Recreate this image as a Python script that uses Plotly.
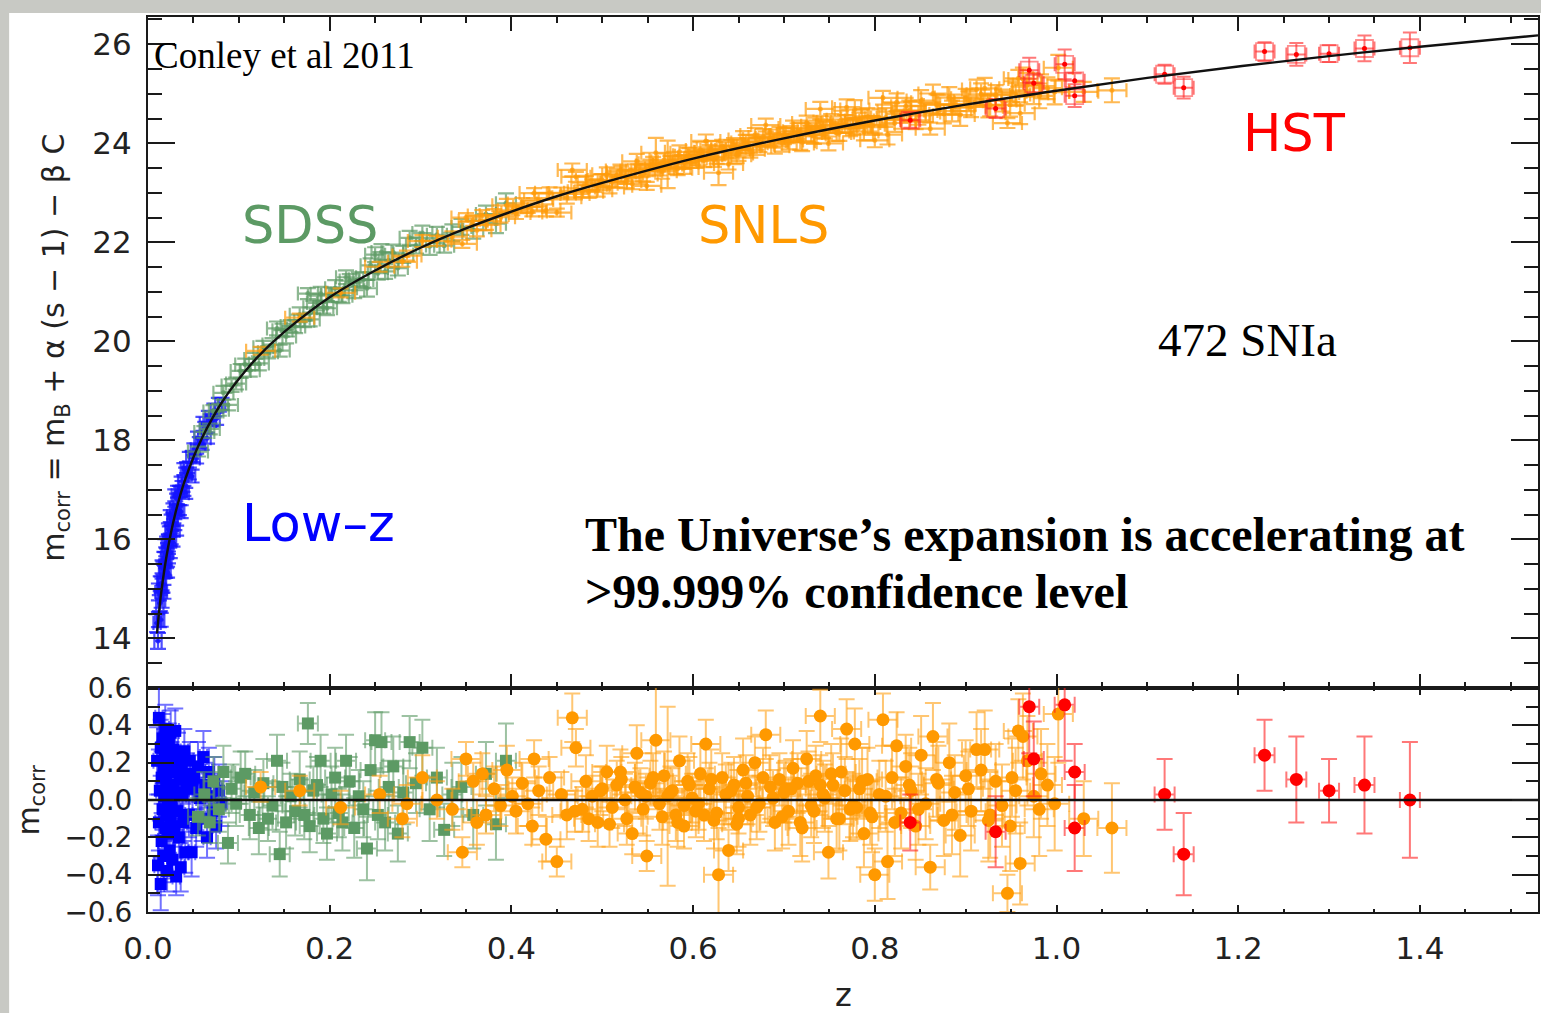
import numpy as np
import plotly.graph_objects as go
from plotly.subplots import make_subplots

# ---------------- best-fit model curve (z, m_corr) ----------------
model_z = [0.010, 0.012, 0.015, 0.020, 0.025, 0.030, 0.035, 0.040, 0.050, 0.060,
           0.070, 0.080, 0.090, 0.100, 0.120, 0.150, 0.200, 0.250, 0.300, 0.350,
           0.400, 0.450, 0.500, 0.600, 0.700, 0.800, 0.900, 1.000, 1.100, 1.200,
           1.300, 1.400, 1.530]
model_m = [14.10, 14.50, 14.99, 15.62, 16.11, 16.52, 16.86, 17.16, 17.66, 18.07,
           18.42, 18.73, 19.00, 19.24, 19.67, 20.19, 20.89, 21.43, 21.89, 22.28,
           22.62, 22.93, 23.20, 23.69, 24.10, 24.46, 24.78, 25.06, 25.32, 25.55,
           25.76, 25.95, 26.18]

# ---------------- Low-z sample ----------------
lowz_z = [0.010, 0.011, 0.012, 0.012, 0.013, 0.014, 0.014, 0.015, 0.015, 0.016,
          0.016, 0.017, 0.017, 0.018, 0.018, 0.019, 0.019, 0.020, 0.020, 0.021,
          0.021, 0.022, 0.022, 0.023, 0.023, 0.024, 0.024, 0.025, 0.025, 0.026,
          0.026, 0.027, 0.028, 0.028, 0.029, 0.030, 0.030, 0.031, 0.032, 0.032,
          0.033, 0.034, 0.035, 0.036, 0.037, 0.038, 0.039, 0.040, 0.041, 0.042,
          0.043, 0.045, 0.046, 0.048, 0.049, 0.051, 0.053, 0.055, 0.057, 0.059,
          0.061, 0.063, 0.065, 0.067, 0.069, 0.071, 0.073, 0.075, 0.078, 0.081]
lowz_res = [0.21, -0.35, 0.44, -0.12, 0.05, -0.45, 0.28, 0.12, -0.22, 0.33,
            -0.05, 0.18, -0.30, 0.02, 0.25, -0.15, 0.38, -0.08, 0.10, -0.38,
            0.22, 0.00, -0.18, 0.30, 0.07, -0.27, 0.15, -0.10, 0.36, -0.02,
            0.20, -0.32, 0.08, 0.27, -0.14, 0.04, 0.37, -0.41, 0.16, -0.06,
            0.24, -0.20, 0.11, -0.36, 0.19, 0.03, -0.12, 0.26, -0.28, 0.09,
            0.14, -0.08, 0.21, -0.28, 0.06, 0.12, -0.15, 0.18, 0.01, -0.10,
            0.23, 0.08, -0.20, 0.15, 0.02, -0.06, 0.10, -0.14, 0.05, -0.02]
lowz_err = [0.18, 0.16, 0.17, 0.15, 0.16, 0.14, 0.15, 0.14, 0.15, 0.13,
            0.14, 0.13, 0.14, 0.12, 0.13, 0.12, 0.13, 0.12, 0.12, 0.11,
            0.12, 0.11, 0.12, 0.11, 0.11, 0.12, 0.10, 0.11, 0.12, 0.10,
            0.11, 0.10, 0.11, 0.10, 0.11, 0.10, 0.12, 0.10, 0.11, 0.10,
            0.12, 0.10, 0.11, 0.13, 0.10, 0.11, 0.10, 0.12, 0.11, 0.10,
            0.11, 0.12, 0.10, 0.13, 0.11, 0.12, 0.10, 0.13, 0.11, 0.12,
            0.14, 0.12, 0.11, 0.13, 0.12, 0.11, 0.13, 0.12, 0.14, 0.12]

# ---------------- SDSS sample ----------------
sdss_z = [0.055, 0.062, 0.068, 0.072, 0.078, 0.083, 0.088, 0.092, 0.097, 0.102,
          0.107, 0.112, 0.117, 0.122, 0.127, 0.132, 0.137, 0.142, 0.145, 0.148,
          0.152, 0.157, 0.162, 0.167, 0.172, 0.176, 0.178, 0.182, 0.186, 0.190,
          0.193, 0.197, 0.202, 0.206, 0.210, 0.214, 0.218, 0.222, 0.227, 0.232,
          0.237, 0.241, 0.245, 0.250, 0.253, 0.257, 0.261, 0.265, 0.270, 0.275,
          0.281, 0.288, 0.295, 0.302, 0.310, 0.318, 0.326, 0.335, 0.345, 0.358,
          0.372, 0.383, 0.394]
sdss_res = [-0.09, 0.03, -0.12, 0.10, -0.05, 0.15, -0.23, 0.06, -0.02, 0.12,
            0.14, -0.08, 0.04, -0.15, 0.09, -0.10, -0.03, 0.21, -0.29, 0.07,
            -0.12, 0.02, -0.06, 0.11, -0.08, 0.41, -0.14, 0.05, 0.08, 0.21,
            -0.10, -0.18, 0.03, 0.12, -0.07, -0.12, 0.21, 0.10, -0.15, 0.02,
            -0.05, -0.26, 0.16, 0.32, -0.08, 0.31, -0.12, 0.07, 0.18, -0.18,
            0.04, 0.31, 0.09, 0.28, -0.05, 0.12, -0.16, 0.03, 0.07, -0.08,
            0.14, -0.13, 0.21]
sdss_err = [0.10, 0.12, 0.11, 0.13, 0.12, 0.14, 0.11, 0.13, 0.12, 0.14,
            0.12, 0.13, 0.12, 0.14, 0.13, 0.12, 0.13, 0.14, 0.12, 0.13,
            0.14, 0.12, 0.13, 0.15, 0.13, 0.11, 0.14, 0.13, 0.15, 0.14,
            0.13, 0.14, 0.15, 0.16, 0.13, 0.15, 0.14, 0.13, 0.16, 0.14,
            0.15, 0.17, 0.14, 0.15, 0.13, 0.16, 0.15, 0.14, 0.16, 0.15,
            0.17, 0.14, 0.16, 0.15, 0.17, 0.16, 0.14, 0.17, 0.16, 0.18,
            0.17, 0.19, 0.20]

# ---------------- SNLS sample ----------------
snls_z = [0.124, 0.167, 0.212, 0.255, 0.280, 0.285, 0.302, 0.318, 0.335, 0.346,
          0.350, 0.358, 0.362, 0.368, 0.372, 0.381, 0.388, 0.395, 0.401, 0.405,
          0.412, 0.418, 0.423, 0.425, 0.430, 0.438, 0.442, 0.450, 0.455, 0.461,
          0.467, 0.471, 0.478, 0.482, 0.489, 0.495, 0.500, 0.505, 0.511, 0.516,
          0.521, 0.527, 0.533, 0.538, 0.542, 0.549, 0.553, 0.559, 0.563, 0.568,
          0.572, 0.577, 0.581, 0.585, 0.590, 0.594, 0.599, 0.603, 0.608, 0.614,
          0.618, 0.623, 0.628, 0.632, 0.636, 0.639, 0.645, 0.650, 0.655, 0.660,
          0.663, 0.668, 0.673, 0.680, 0.685, 0.690, 0.695, 0.700, 0.705, 0.710,
          0.715, 0.720, 0.725, 0.730, 0.735, 0.740, 0.745, 0.749, 0.754, 0.758,
          0.763, 0.769, 0.773, 0.778, 0.783, 0.788, 0.792, 0.797, 0.800, 0.805,
          0.809, 0.814, 0.819, 0.824, 0.829, 0.834, 0.840, 0.845, 0.851, 0.856,
          0.861, 0.864, 0.870, 0.876, 0.882, 0.888, 0.894, 0.900, 0.906, 0.912,
          0.917, 0.921, 0.927, 0.933, 0.940, 0.946, 0.949, 0.951, 0.955, 0.958,
          0.960, 0.963, 0.968, 0.975, 0.981, 0.983, 0.990, 0.998, 1.002, 1.030,
          1.061, 0.548, 0.612, 0.702, 0.780, 0.520, 0.650, 0.740, 0.590, 0.470,
          0.485, 0.498, 0.508, 0.525, 0.536, 0.545, 0.556, 0.566, 0.575, 0.583,
          0.596, 0.606, 0.620, 0.626, 0.642, 0.648, 0.658, 0.670, 0.677, 0.688,
          0.698, 0.708, 0.718, 0.727, 0.733, 0.743, 0.752, 0.761, 0.767, 0.776,
          0.786, 0.795, 0.812, 0.822, 0.838, 0.848, 0.868, 0.885, 0.903, 0.925]
snls_res = [0.07, 0.05, -0.04, 0.03, -0.10, -0.02, 0.12, 0.00, -0.05, -0.28,
            0.22, 0.10, -0.12, 0.14, -0.08, 0.06, -0.03, 0.16, 0.02, -0.06,
            0.09, -0.02, -0.14, 0.22, 0.05, -0.21, 0.12, -0.33, 0.03, -0.08,
            0.44, 0.28, -0.05, 0.10, 0.02, -0.12, 0.06, 0.15, -0.04, 0.08,
            0.11, -0.10, -0.18, 0.25, 0.04, -0.30, 0.09, 0.32, -0.02, 0.13,
            0.02, 0.05, -0.08, 0.21, -0.14, 0.10, 0.01, -0.06, 0.14, 0.30,
            0.06, -0.11, -0.40, 0.12, 0.03, -0.27, 0.08, -0.04, 0.16, 0.02,
            -0.08, 0.20, -0.02, 0.35, 0.07, -0.12, 0.11, 0.04, -0.06, 0.17,
            0.09, -0.15, 0.22, -0.03, 0.13, 0.45, 0.01, -0.28, 0.08, -0.10,
            0.15, 0.38, -0.05, 0.30, 0.06, -0.18, 0.11, -0.09, -0.40, 0.03,
            0.43, -0.33, 0.12, 0.29, -0.07, 0.18, 0.05, -0.14, 0.24, -0.02,
            -0.36, 0.34, 0.09, -0.11, 0.20, 0.04, -0.19, 0.13, -0.06, 0.27,
            0.16, 0.27, -0.08, 0.10, -0.03, -0.50, -0.14, 0.12, 0.05, 0.37,
            -0.34, 0.34, 0.21, 0.02, -0.05, 0.14, 0.08, -0.02, 0.46, -0.10,
            -0.15, 0.02, -0.08, 0.06, -0.04, 0.15, -0.10, 0.08, -0.03, -0.06,
            -0.10, 0.05, -0.13, 0.00, 0.07, -0.05, 0.12, -0.09, 0.04, -0.12,
            0.08, -0.02, 0.11, -0.07, 0.05, -0.13, 0.09, -0.04, 0.12, 0.01,
            -0.09, 0.06, -0.12, 0.10, -0.06, 0.03, 0.14, -0.10, 0.05, -0.03,
            0.10, -0.07, 0.02, -0.12, 0.08, -0.05, 0.11, -0.08, 0.06, -0.11]
snls_err = [0.08, 0.08, 0.09, 0.10, 0.10, 0.10, 0.12, 0.10, 0.11, 0.08,
            0.09, 0.10, 0.12, 0.11, 0.10, 0.12, 0.11, 0.13, 0.10, 0.12,
            0.11, 0.12, 0.10, 0.10, 0.13, 0.12, 0.11, 0.08, 0.12, 0.13,
            0.13, 0.10, 0.12, 0.14, 0.11, 0.13, 0.12, 0.14, 0.11, 0.13,
            0.12, 0.14, 0.11, 0.15, 0.13, 0.08, 0.12, 0.30, 0.14, 0.13,
            0.48, 0.12, 0.14, 0.13, 0.12, 0.15, 0.13, 0.14, 0.16, 0.13,
            0.14, 0.15, 0.25, 0.13, 0.16, 0.11, 0.15, 0.14, 0.17, 0.15,
            0.16, 0.14, 0.15, 0.13, 0.17, 0.15, 0.14, 0.16, 0.18, 0.15,
            0.16, 0.18, 0.15, 0.17, 0.16, 0.14, 0.18, 0.14, 0.17, 0.16,
            0.18, 0.16, 0.17, 0.19, 0.16, 0.18, 0.17, 0.19, 0.14, 0.18,
            0.14, 0.20, 0.17, 0.18, 0.19, 0.17, 0.20, 0.18, 0.21, 0.19,
            0.12, 0.18, 0.20, 0.19, 0.21, 0.20, 0.22, 0.19, 0.21, 0.20,
            0.22, 0.21, 0.23, 0.20, 0.22, 0.10, 0.24, 0.21, 0.23, 0.17,
            0.22, 0.23, 0.24, 0.22, 0.25, 0.24, 0.22, 0.25, 0.26, 0.20,
            0.24, 0.12, 0.14, 0.15, 0.17, 0.12, 0.15, 0.16, 0.13, 0.11,
            0.12, 0.13, 0.12, 0.14, 0.13, 0.14, 0.13, 0.15, 0.14, 0.13,
            0.15, 0.14, 0.16, 0.14, 0.15, 0.16, 0.15, 0.17, 0.16, 0.15,
            0.17, 0.16, 0.18, 0.16, 0.17, 0.18, 0.16, 0.17, 0.18, 0.17,
            0.18, 0.17, 0.19, 0.18, 0.20, 0.19, 0.20, 0.21, 0.20, 0.22]

# ---------------- HST sample ----------------
hst_z = [0.839, 0.933, 0.970, 0.975, 1.009, 1.020, 1.020,
         1.119, 1.140, 1.229, 1.264, 1.300, 1.339, 1.389]
hst_res = [-0.12, -0.17, 0.50, 0.22, 0.51, 0.15, -0.15,
           0.03, -0.29, 0.24, 0.11, 0.05, 0.08, 0.00]
hst_err = [0.15, 0.19, 0.25, 0.20, 0.30, 0.15, 0.23,
           0.19, 0.22, 0.19, 0.23, 0.17, 0.26, 0.31]

# typical redshift uncertainty per sample (half-width of horizontal bars)
z_err = {"lowz": 0.004, "sdss": 0.011, "snls": 0.016, "hst": 0.011}

BLUE, GREEN, ORANGE, RED = "#0000ff", "#5c9a64", "#ff9900", "#ff0000"
FAINT = {BLUE: "rgba(20,20,255,0.6)", GREEN: "rgba(92,154,100,0.6)",
         ORANGE: "rgba(255,160,20,0.6)", RED: "rgba(255,30,30,0.6)"}
TOPC = {BLUE: "rgba(20,20,255,0.75)", GREEN: "rgba(92,154,100,0.7)",
        ORANGE: "rgba(255,155,10,0.7)", RED: "rgba(255,30,30,0.6)"}

samples = [
    ("lowz", lowz_z, lowz_res, lowz_err, BLUE, "square"),
    ("sdss", sdss_z, sdss_res, sdss_err, GREEN, "square"),
    ("snls", snls_z, snls_res, snls_err, ORANGE, "circle"),
    ("hst", hst_z, hst_res, hst_err, RED, "circle"),
]

fig = make_subplots(rows=2, cols=1, shared_xaxes=True, vertical_spacing=0)


def err(arr, color, width, thick):
    return dict(type="data", array=arr, visible=True, color=color,
                thickness=thick, width=width)


for key, z, res, e, col, sym in samples:
    z = np.asarray(z)
    res = np.asarray(res)
    m_corr = np.interp(z, model_z, model_m) + res
    xe = [z_err[key]] * len(z)
    if key == "hst":
        fig.add_trace(go.Scatter(
            x=z, y=m_corr, mode="markers",
            marker=dict(symbol="square-open", size=17, color="rgba(255,50,50,0.55)",
                        line=dict(width=1.8)),
            error_y=err(e, TOPC[col], 7, 2), error_x=err(xe, TOPC[col], 7, 2),
            showlegend=False, hoverinfo="skip"), row=1, col=1)
        fig.add_trace(go.Scatter(
            x=z, y=m_corr, mode="markers",
            marker=dict(symbol="circle", size=5, color=col),
            showlegend=False, hoverinfo="skip"), row=1, col=1)
    else:
        fig.add_trace(go.Scatter(
            x=z, y=m_corr, mode="markers",
            marker=dict(symbol="circle", size=5, color=TOPC[col]),
            error_y=err(e, TOPC[col], 8, 2.2), error_x=err(xe, TOPC[col], 7, 2.2),
            showlegend=False, hoverinfo="skip"), row=1, col=1)
    fig.add_trace(go.Scatter(
        x=z, y=res, mode="markers",
        marker=dict(symbol=sym, size=13 if sym == "circle" else 12, color=col),
        error_y=err(e, FAINT[col], 8, 2), error_x=err(xe, FAINT[col], 8, 2),
        showlegend=False, hoverinfo="skip"), row=2, col=1)

# model curve and zero-residual line on top of the points
fig.add_trace(go.Scatter(x=model_z, y=model_m, mode="lines",
                         line=dict(color="#111111", width=2.4, shape="spline"),
                         showlegend=False, hoverinfo="skip"), row=1, col=1)
fig.add_trace(go.Scatter(x=[0, 1.53], y=[0, 0], mode="lines",
                         line=dict(color="#111111", width=2.4),
                         showlegend=False, hoverinfo="skip"), row=2, col=1)

SANS = "DejaVu Sans"
SERIF = "Liberation Serif"
INK = "#1a1a1a"
x_ticks = [0.0, 0.2, 0.4, 0.6, 0.8, 1.0, 1.2, 1.4]

common_x = dict(range=[0, 1.53], showline=True, linewidth=2, linecolor=INK,
                mirror="ticks", ticks="inside", tickcolor=INK, tickwidth=2,
                tickvals=x_ticks, showgrid=False, zeroline=False)
fig.update_xaxes(**common_x)
fig.update_xaxes(ticklen=14, showticklabels=False,
                 minor=dict(ticks="inside", ticklen=6, tickwidth=1.5, tickcolor=INK,
                            dtick=0.05, tick0=0, showgrid=False),
                 row=1, col=1)
fig.update_xaxes(ticklen=7, showticklabels=True, tickformat=".1f",
                 tickfont=dict(family=SANS, size=31, color="#222"),
                 ticklabelstandoff=8,
                 minor=dict(ticks="inside", ticklen=3, tickwidth=1.5, tickcolor=INK,
                            dtick=0.05, tick0=0, showgrid=False),
                 row=2, col=1)

fig.update_yaxes(range=[13.0, 26.55], tickvals=[14, 16, 18, 20, 22, 24, 26],
                 showline=True, linewidth=2, linecolor=INK, mirror="ticks",
                 ticks="inside", ticklen=27, tickwidth=2, tickcolor=INK,
                 minor=dict(ticks="inside", ticklen=14, tickwidth=2, tickcolor=INK,
                            dtick=0.5, tick0=0, showgrid=False),
                 tickfont=dict(family=SANS, size=31, color="#222"),
                 ticklabelstandoff=8, showgrid=False, zeroline=False,
                 row=1, col=1)
fig.update_yaxes(range=[-0.6, 0.6], tickvals=[-0.6, -0.4, -0.2, 0.0, 0.2, 0.4, 0.6],
                 ticktext=["\u22120.6", "\u22120.4", "\u22120.2", "0.0", "0.2", "0.4", "0.6"],
                 showline=True, linewidth=2, linecolor=INK, mirror="ticks",
                 ticks="inside", ticklen=26, tickwidth=2, tickcolor=INK,
                 minor=dict(ticks="inside", ticklen=12, tickwidth=1.5, tickcolor=INK,
                            dtick=0.1, tick0=0, showgrid=False),
                 tickfont=dict(family=SANS, size=28, color="#222"),
                 ticklabelstandoff=8, showgrid=False, zeroline=False,
                 row=2, col=1)

split = 0.2503
fig.update_layout(yaxis=dict(domain=[split, 1.0]), yaxis2=dict(domain=[0.0, split]))

ann = [
    dict(text="Conley et al 2011", x=0.003, y=0.9566, xanchor="left",
         font=dict(family=SERIF, size=37, color="black")),
    dict(text="SDSS", x=0.0661, y=0.7675, xanchor="left",
         font=dict(family=SANS, size=51, color=GREEN)),
    dict(text="SNLS", x=0.3944, y=0.7675, xanchor="left",
         font=dict(family=SANS, size=51, color=ORANGE)),
    dict(text="HST", x=0.7866, y=0.8699, xanchor="left",
         font=dict(family=SANS, size=51, color=RED)),
    dict(text="Low\u2013z", x=0.0661, y=0.4338, xanchor="left",
         font=dict(family=SANS, size=51, color=BLUE)),
    dict(text="472 SNIa", x=0.7249, y=0.6396, xanchor="left",
         font=dict(family=SERIF, size=47, color="black")),
    dict(text="<b>The Universe\u2019s expansion is accelerating at</b>", x=0.3132, y=0.4216,
         xanchor="left", font=dict(family=SERIF, size=48, color="black")),
    dict(text="<b>>99.999% confidence level</b>", x=0.3132, y=0.3582,
         xanchor="left", font=dict(family=SERIF, size=48, color="black")),
    dict(text="m<sub>corr</sub> = m<sub>B</sub> + \u03b1 (s \u2212 1) \u2212 \u03b2 C",
         x=-0.0668, y=0.6307, xanchor="center", textangle=-90,
         font=dict(family=SANS, size=30, color="#222")),
    dict(text="m<sub>corr</sub>", x=-0.0848, y=0.1246, xanchor="center", textangle=-90,
         font=dict(family=SANS, size=30, color="#222")),
    dict(text="z", x=0.5007, y=-0.0923, xanchor="center",
         font=dict(family=SANS, size=32, color="#222")),
]
for a in ann:
    a.update(xref="paper", yref="paper", showarrow=False, yanchor="middle")

fig.update_layout(
    width=1541, height=1013,
    margin=dict(l=148, r=1, t=13, b=101),
    paper_bgcolor="#c8c9c4", plot_bgcolor="white",
    annotations=ann,
    shapes=[dict(type="rect", xref="paper", yref="paper",
                 x0=-0.0999, x1=1.01, y0=-0.2, y1=1.0045,
                 fillcolor="white", line=dict(width=0), layer="below")],
    showlegend=False,
)

fig.write_html("out.html")
